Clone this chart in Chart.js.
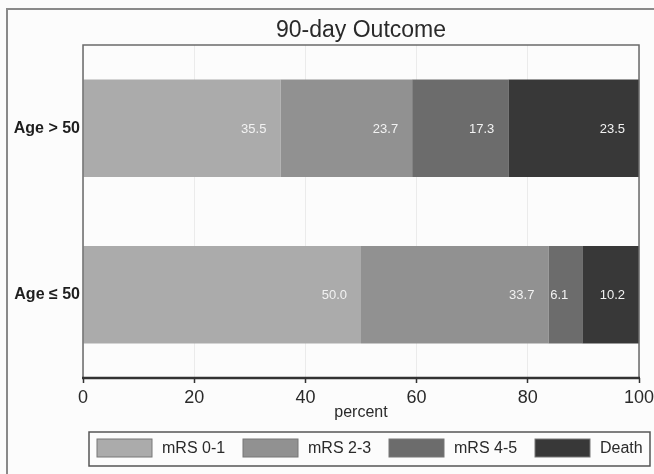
<!DOCTYPE html>
<html>
<head>
<meta charset="utf-8">
<script src="https://cdn.jsdelivr.net/npm/chart.js@4/dist/chart.umd.min.js"></script>
<style>
  html, body { margin: 0; padding: 0; background: #fcfcfc; }
  #wrap { width: 654px; height: 474px; }
</style>
</head>
<body>
<div id="wrap"><canvas id="outcome" width="654" height="474"></canvas></div>
<script>
// 90-day outcome by age group (percent)
var groups = ['Age > 50', 'Age \u2264 50'];
var mrs01 = [35.5, 50.0];
var mrs23 = [23.7, 33.7];
var mrs45 = [17.3, 6.1];
var death = [23.5, 10.2];
var xTicks = [0, 20, 40, 60, 80, 100];

var FONT = "'Liberation Sans', Arial, sans-serif";

// outer frame, title, plot box, value labels and legend
var decor = {
  id: 'decor',
  beforeDraw: function (chart) {
    var c = chart.ctx;
    c.save();
    c.fillStyle = '#fcfcfc';
    c.fillRect(0, 0, chart.width, chart.height);
    c.strokeStyle = '#8a8a8a';
    c.lineWidth = 2;
    c.beginPath();
    c.moveTo(7, chart.height);
    c.lineTo(7, 9);
    c.lineTo(chart.width, 9);
    c.stroke();
    c.restore();
  },
  afterDatasetsDraw: function (chart) {
    var c = chart.ctx, a = chart.chartArea;
    c.save();
    // plot box
    c.strokeStyle = '#6a6a6a';
    c.lineWidth = 1.5;
    c.strokeRect(a.left, a.top, a.right - a.left, a.bottom - a.top);
    c.strokeStyle = '#333';
    c.lineWidth = 2.5;
    c.beginPath();
    c.moveTo(a.left - 1, a.bottom);
    c.lineTo(a.right + 1, a.bottom);
    c.stroke();

    // title
    c.fillStyle = '#2a2a2a';
    c.font = '23px ' + FONT;
    c.textAlign = 'center';
    c.textBaseline = 'middle';
    c.fillText('90-day Outcome', (a.left + a.right) / 2, 31);

    // value labels, near the end of each segment
    c.font = '13px ' + FONT;
    c.fillStyle = '#f2f2f2';
    c.textAlign = 'right';
    chart.data.datasets.forEach(function (ds, i) {
      chart.getDatasetMeta(i).data.forEach(function (bar, j) {
        c.fillText(ds.data[j].toFixed(1), bar.x - 14, bar.y + 1);
      });
    });

    // legend
    c.strokeStyle = '#555';
    c.lineWidth = 1.5;
    c.strokeRect(89, 432, 561, 34);
    c.font = '16px ' + FONT;
    c.textAlign = 'left';
    chart.data.datasets.forEach(function (ds, i) {
      var x = 97 + i * 146;
      c.fillStyle = ds.backgroundColor;
      c.fillRect(x, 439, 55, 18);
      c.strokeStyle = '#777';
      c.lineWidth = 1;
      c.strokeRect(x, 439, 55, 18);
      c.fillStyle = '#2a2a2a';
      c.fillText(ds.label, x + 65, 449);
    });
    c.restore();
  }
};

var chart = new Chart(document.getElementById('outcome'), {
  type: 'bar',
  data: {
    labels: groups,
    datasets: [
      { label: 'mRS 0-1', data: mrs01, backgroundColor: '#ababab' },
      { label: 'mRS 2-3', data: mrs23, backgroundColor: '#919191' },
      { label: 'mRS 4-5', data: mrs45, backgroundColor: '#6c6c6c' },
      { label: 'Death', data: death, backgroundColor: '#383838' }
    ]
  },
  options: {
    indexAxis: 'y',
    responsive: false,
    animation: false,
    devicePixelRatio: 1,
    layout: { padding: { top: 45, right: 15, bottom: 52, left: 0 } },
    datasets: { bar: { categoryPercentage: 0.585, barPercentage: 1, borderWidth: 0 } },
    plugins: { legend: { display: false }, title: { display: false }, tooltip: { enabled: false } },
    scales: {
      x: {
        stacked: true,
        min: 0,
        max: 100,
        afterBuildTicks: function (s) { s.ticks = xTicks.map(function (v) { return { value: v }; }); },
        afterFit: function (s) { s.height = 44; s.paddingLeft = 0; s.paddingRight = 0; },
        grid: { color: '#ebebeb', lineWidth: 1, tickLength: 5, tickColor: '#333', tickWidth: 1.5 },
        border: { display: false },
        ticks: { color: '#2a2a2a', padding: 4, font: { family: FONT, size: 18 }, maxRotation: 0 },
        title: { display: true, text: 'percent', color: '#2a2a2a', padding: { top: 0, bottom: 0 }, font: { family: FONT, size: 16 } }
      },
      y: {
        stacked: true,
        afterFit: function (s) { s.width = 83; },
        grid: { display: false, drawTicks: false },
        border: { display: false },
        ticks: { color: '#1e1e1e', padding: 3, font: { family: FONT, size: 16, weight: 'bold' } }
      }
    }
  },
  plugins: [decor]
});
</script>
</body>
</html>
